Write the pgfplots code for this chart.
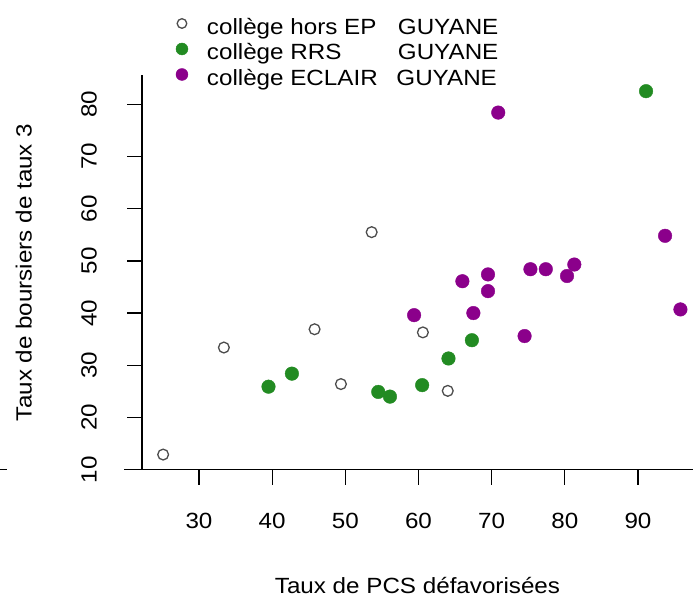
\documentclass[border=0pt]{standalone}
\usepackage{fontspec}
\setmainfont{Liberation Sans}[FakeStretch=1.1]
\usepackage{pgfplots}
\pgfplotsset{compat=1.18}
\definecolor{rgreen}{HTML}{228B22}
\definecolor{rpurple}{HTML}{8B008B}
\definecolor{rgrey}{HTML}{4D4D4D}

\begin{document}
\begin{tikzpicture}[font=\fontsize{22pt}{26pt}\selectfont]
\begin{axis}[
  at={(142pt,125.3pt)}, anchor=south west,
  scale only axis, width=551pt, height=394.7pt,
  xmin=22.21, xmax=97.52, ymin=10, ymax=85.6,
  axis x line=bottom, axis y line=left,
  axis line style={-, line width=1.4pt, black},
  xtick={30,40,...,90}, ytick={10,20,...,80},
  tick align=outside, major tick length=15pt,
  tick style={line width=1.3pt, black},
  /pgf/number format/assume math mode=true,
  xticklabel style={anchor=base, inner sep=0pt},
  xticklabel shift=43.6pt,
  yticklabel style={rotate=90, anchor=base, inner sep=0pt},
  yticklabel shift=30.4pt,
  xlabel={Taux de PCS défavorisées},
  ylabel={Taux de boursiers de taux 3},
  every axis x label/.style={at={(axis description cs:0.5,-0.3124)}, anchor=base},
  every axis y label/.style={at={(axis description cs:-0.2002,0.5)}, rotate=90, anchor=base},
  legend style={at={(axis description cs:0.0613,1.1462)}, anchor=north west,
    draw=none, fill=none, inner sep=0pt, row sep=3.5pt, column sep=19pt,
    cells={anchor=base west},
    nodes={inner sep=0pt, text height=17pt, text depth=5pt},
    font=\fontsize{22pt}{26pt}\selectfont},
  legend image code/.code={\draw[#1] plot coordinates {(0pt,11pt)};},
  clip=false,
]
% college hors EP
\addplot[only marks, mark=o, mark size=5.4pt,
  mark options={draw=rgrey, line width=1.3pt},
  legend image post style={mark size=4.8pt}]
  coordinates {
    (25.1,12.9) (33.4,33.4) (45.8,36.9) (49.4,26.4)
    (53.6,55.5) (60.6,36.3) (64.0,25.1)
  };
\addlegendentry{\makebox[191pt][l]{collège hors EP}GUYANE}
% college RRS
\addplot[only marks, mark=*, mark size=6.8pt,
  mark options={draw=rgreen, fill=rgreen, line width=0.4pt},
  legend image post style={mark size=6pt}]
  coordinates {
    (39.5,25.9) (42.7,28.4) (54.5,24.9) (56.1,24.0)
    (60.5,26.2) (64.1,31.3) (67.3,34.8) (91.1,82.5)
  };
\addlegendentry{\makebox[191pt][l]{collège RRS}GUYANE}
% college ECLAIR
\addplot[only marks, mark=*, mark size=6.8pt,
  mark options={draw=rpurple, fill=rpurple, line width=0.4pt},
  legend image post style={mark size=6pt}]
  coordinates {
    (59.4,39.6) (66.0,46.1) (69.5,47.4) (69.5,44.2)
    (67.5,40.0) (74.5,35.6) (75.3,48.4) (77.4,48.4)
    (80.3,47.1) (81.3,49.3) (93.7,54.8) (95.8,40.7)
    (70.9,78.4)
  };
\addlegendentry{\makebox[189.5pt][l]{collège ECLAIR}GUYANE}
\end{axis}
\draw[line width=1.4pt] (124pt,125.3pt) -- (143pt,125.3pt);
\draw[line width=1.4pt] (0pt,125.3pt) -- (7pt,125.3pt);
\pgfresetboundingbox
\useasboundingbox (0pt,0pt) rectangle (693pt,595pt);
\end{tikzpicture}
\end{document}
